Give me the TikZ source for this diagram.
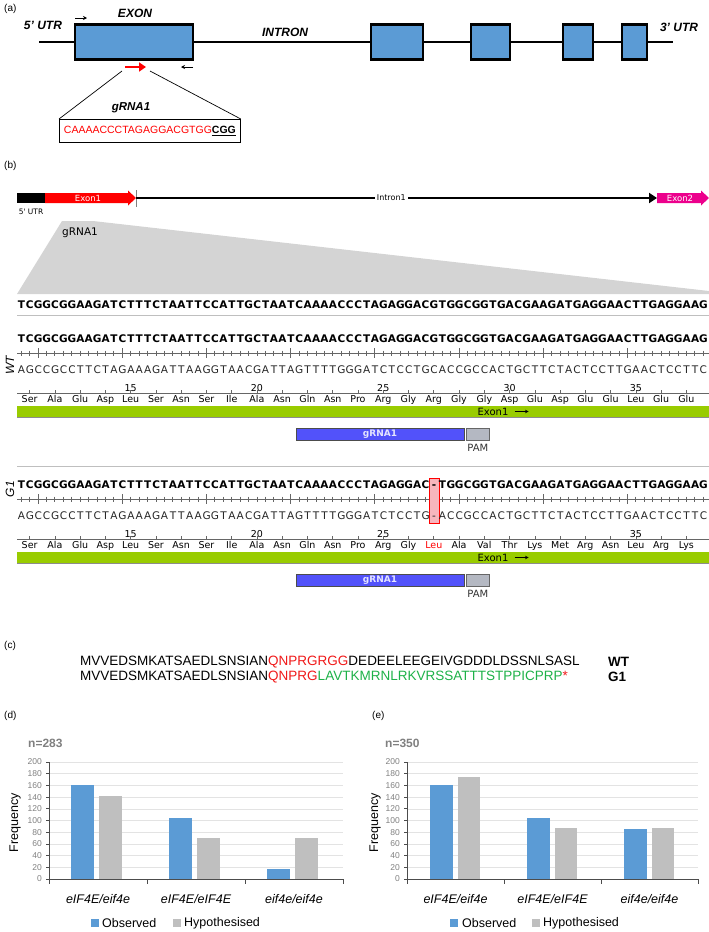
\documentclass[tikz,border=0pt]{standalone}
\usepackage{fontspec}
\setmainfont{Liberation Sans}
\newfontfamily\sgfont{DejaVu Sans}
\usetikzlibrary{arrows.meta, positioning}

\definecolor{exonblue}{HTML}{5B9BD5}
\definecolor{chartgray}{HTML}{BFBFBF}
\definecolor{snapgreen}{HTML}{99CC00}
\definecolor{guideblue}{HTML}{5252FA}
\definecolor{pamgray}{HTML}{B4B8C2}
\definecolor{gapred}{HTML}{F7B5BD}
\definecolor{protred}{HTML}{F01818}
\definecolor{protgreen}{HTML}{1DB148}
\definecolor{ticktext}{HTML}{808080}
\definecolor{gridgray}{HTML}{E3E3E3}
\definecolor{wedgegray}{HTML}{D4D4D4}

\newcommand\fsz[1]{\fontsize{#1pt}{#1pt}\selectfont}
% one letter per fixed-width cell, like the SnapGene view
\newcommand\seqspread[1]{\seqstep#1\relax}
\def\seqstep#1{\ifx#1\relax\else\makebox[8.42pt]{#1}\expandafter\seqstep\fi}

\begin{document}
\begin{tikzpicture}[
    x=1pt, y=-1pt, >=Latex,
    panellab/.style={font=\fsz{10}, anchor=west, inner sep=0},
    genelab/.style={font=\fsz{12}\bfseries\itshape, inner sep=0},
    exonbox/.style={draw=black, line width=2.4pt, fill=exonblue,
        inner sep=0, minimum height=35pt},
    primer/.style={-{Stealth[length=4pt,width=4pt]}, line width=0.9pt},
    sglab/.style={font=\sgfont\fsz{#1}, inner sep=0},
    seqtop/.style={font=\sgfont\bfseries\fsz{10.5}, anchor=west, inner sep=0},
    seqbot/.style={font=\sgfont\fsz{10.5}, anchor=west, inner sep=0, text=black!85},
    aaname/.style={font=\sgfont\fsz{9.5}, inner sep=0, text height=7pt, text depth=2pt},
    aanum/.style={font=\sgfont\fsz{9.5}, inner sep=0},
    rulerline/.style={draw=black!60, line width=0.8pt},
    sepline/.style={draw=black!25, line width=1pt},
    strainlab/.style={font=\itshape\fsz{12}, rotate=90, inner sep=0},
    protseq/.style={font=\fsz{13.5}, anchor=west, inner sep=0},
    ticklab/.style={font=\fsz{8.5}, text=ticktext, anchor=east, inner sep=0},
    catlab/.style={font=\itshape\fsz{12.5}, inner sep=0},
    leglab/.style={font=\fsz{12.5}, anchor=west, inner sep=0},
    nlab/.style={font=\bfseries\fsz{12}, text=ticktext, anchor=west, inner sep=0},
    gridline/.style={draw=gridgray, line width=0.6pt},
    axisline/.style={draw=black!70, line width=0.8pt}
]
\useasboundingbox (0,0) rectangle (709,932);

% ---------- (a) gene model
\node[panellab] (labA) at (4,9) {(a)};
\coordinate (geneStart) at (39,42);
\coordinate (geneEnd) at (673,42);
\draw[line width=2.8pt] (geneStart) -- (geneEnd);
\node[exonbox, minimum width=118pt] (ex1) at (134,42) {};
\node[exonbox, minimum width=52pt] (ex2) at (397,42) {};
\node[exonbox, minimum width=39pt] (ex3) at (490.5,42) {};
\node[exonbox, minimum width=30pt] (ex4) at (578,42) {};
\node[exonbox, minimum width=25pt] (ex5) at (634.5,42) {};
\node[genelab] (utr5) at (43,25) {5' UTR};
\node[genelab] (exonLab) at (135,13) {EXON};
\node[genelab] (intronLab) at (285,32) {INTRON};
\node[genelab] (utr3) at (679,27) {3' UTR};

\coordinate (fwdP) at (75,18);
\coordinate (revP) at (193,67);
\draw[primer] (fwdP) -- ++(12,0);
\draw[primer] (revP) -- ++(-12,0);
\coordinate (cutSite) at (125,67);
\draw[-{Triangle[length=7pt,width=9pt]}, red, line width=2.6pt] (cutSite) -- ++(21,0);

\node[draw, line width=0.8pt, minimum width=181pt, minimum height=23pt,
    anchor=north west, inner sep=0, font=\fsz{10.5}] (gbox) at (59,119)
    {\textcolor{red}{CAAAACCCTAGAGGACGTGG}\underline{\textbf{CGG}}};
\node[genelab, font=\fsz{11.5}\bfseries\itshape] (gLab) at (131,108) {gRNA1};
\draw[line width=0.7pt] (122,71) -- (gbox.north west);
\draw[line width=0.7pt] (150,71) -- (gbox.north east);

% ---------- (b) SnapGene view
\node[panellab] (labB) at (4,166) {(b)};
\fill[wedgegray] (62,221) -- (93,221) -- (709,291) -- (709,294) -- (17,294) -- cycle;
\node[sglab=10.5, anchor=west] (wedgeLab) at (62,233) {gRNA1};

\node[fill=black, minimum width=28pt, minimum height=10pt, inner sep=0,
    anchor=west] (utrBar) at (17,198) {};
\fill[red] (45,193) -- (128,193) -- (128,190.5) -- (136,198) -- (128,205.5)
    -- (128,203) -- (45,203) -- cycle;
\node[sglab=8.5, text=white] (exon1Tag) at (88,198) {Exon1};
\draw[black!50] (136,190) -- (136,207);
\coordinate (intronStart) at (136,198);
\coordinate (intronEnd) at (657,198);
\draw[line width=2.6pt, -{Triangle[length=8pt,width=10pt]}] (intronStart) -- (intronEnd)
    node[pos=0.49, fill=white, sglab=8, inner sep=2pt] (intronTag) {Intron1};
\fill[magenta] (657,193) -- (701,193) -- (701,190.5) -- (709,198) -- (701,205.5)
    -- (701,203) -- (657,203) -- cycle;
\node[sglab=8.5, text=white] (exon2Tag) at (680,198) {Exon2};
\node[sglab=7.5] (utrTag) at (31,212) {5' UTR};

\node[seqtop] (refSeq) at (17,305)
    {\seqspread{TCGGCGGAAGATCTTTCTAATTCCATTGCTAATCAAAACCCTAGAGGACGTGGCGGTGACGAAGATGAGGAACTTGAGGAAG}};
\draw[sepline] (17,315) -- (709,315);
\draw[sepline] (17,466) -- (709,466);

% rulers, exon bars, guide and PAM for both rows
\foreach \yb in {339,485} {
  \draw[rulerline] (17,{\yb+14}) -- (709,{\yb+14});
  \foreach \i in {0,...,81}
    \draw[rulerline] ({21.21+8.42*\i},{\yb+11.5}) -- ++(0,5);
  \foreach \i in {2,12,...,72}
    \draw[rulerline] ({21.21+8.42*\i},{\yb+9}) -- ++(0,10);
  \draw[rulerline, line width=0.6pt] (17,{\yb+54}) -- (709,{\yb+54});
  \foreach \k in {0,...,26}
    \draw[rulerline, line width=0.6pt] ({29.63+25.26*\k},{\yb+54}) -- ++(0,-3);
  \fill[snapgreen] (17,{\yb+67}) rectangle (709,{\yb+78});
  \draw[black!45, line width=1pt] (17,{\yb+78}) -- (709,{\yb+78});
  \node[sglab=10] (exonTag\yb) at (493,{\yb+72.5}) {Exon1};
  \draw[-{Stealth[length=3.5pt,width=3.5pt]}, line width=0.9pt]
    ([xshift=6pt]exonTag\yb.east) -- ++(14,0);
  \node[fill=guideblue, draw=black!70, minimum width=168pt, minimum height=12pt,
    inner sep=0, font=\sgfont\bfseries\fsz{9}, text=white!85!guideblue]
    (guide\yb) at (380,{\yb+95}) {gRNA1};
  \node[fill=pamgray, draw=black!60, minimum width=23pt, minimum height=12pt,
    inner sep=0, right=2pt of guide\yb] (pam\yb) {};
  \node[sglab=10, text=black!80, below=4pt of pam\yb] (pamTag\yb) {PAM};
}

% WT
\node[strainlab] (wtLab) at (10,365) {WT};
\node[seqtop] (wtTop) at (17,339)
    {\seqspread{TCGGCGGAAGATCTTTCTAATTCCATTGCTAATCAAAACCCTAGAGGACGTGGCGGTGACGAAGATGAGGAACTTGAGGAAG}};
\node[seqbot] (wtBot) at (17,370)
    {\seqspread{AGCCGCCTTCTAGAAAGATTAAGGTAACGATTAGTTTTGGGATCTCCTGCACCGCCACTGCTTCTACTCCTTGAACTCCTTC}};
\foreach \n/\k in {15/4,20/9,25/14,30/19,35/24}
  \node[aanum] (wtNum\n) at ({29.63+25.26*\k},388) {\n};
\foreach \aa [count=\k from 0] in {Ser,Ala,Glu,Asp,Leu,Ser,Asn,Ser,Ile,Ala,Asn,Gln,Asn,Pro,
    Arg,Gly,Arg,Gly,Gly,Asp,Glu,Asp,Glu,Glu,Leu,Glu,Glu}
  \node[aaname] (wtAa\k) at ({29.63+25.26*\k},400) {\aa};

% G1, one base deleted
\node[strainlab] (g1Lab) at (10,489) {G1};
\node[draw=red, fill=gapred, minimum width=10pt, minimum height=45pt, inner sep=0]
    (gapBox) at (434,500.5) {};
\node[seqtop] (g1Top) at (17,485)
    {\seqspread{TCGGCGGAAGATCTTTCTAATTCCATTGCTAATCAAAACCCTAGAGGAC-TGGCGGTGACGAAGATGAGGAACTTGAGGAAG}};
\node[seqbot] (g1Bot) at (17,516)
    {\seqspread{AGCCGCCTTCTAGAAAGATTAAGGTAACGATTAGTTTTGGGATCTCCTG-ACCGCCACTGCTTCTACTCCTTGAACTCCTTC}};
\foreach \n/\k in {15/4,20/9,25/14,35/24}
  \node[aanum] (g1Num\n) at ({29.63+25.26*\k},534) {\n};
\foreach \aa [count=\k from 0] in {Ser,Ala,Glu,Asp,Leu,Ser,Asn,Ser,Ile,Ala,Asn,Gln,Asn,Pro,
    Arg,Gly,\textcolor{red}{Leu},Ala,Val,Thr,Lys,Met,Arg,Asn,Leu,Arg,Lys}
  \node[aaname] (g1Aa\k) at ({29.63+25.26*\k},546) {\aa};

% ---------- (c) protein sequences
\node[panellab] (labC) at (4,646) {(c)};
\node[protseq] (wtProt) at (80,662)
    {MVVEDSMKATSAEDLSNSIAN\textcolor{protred}{QNPRGRGG}DEDEELEEGEIVGDDDLDSSNLSASL};
\node[protseq] (g1Prot) at (80,677)
    {MVVEDSMKATSAEDLSNSIAN\textcolor{protred}{QNPRG}\textcolor{protgreen}{LAVTKMRNLRKVRSSATTTSTPPICPRP}\textcolor{protred}{*}};
\node[font=\bfseries\fsz{13.5}, anchor=west, inner sep=0] (wtTag) at (608,662) {WT};
\node[font=\bfseries\fsz{13.5}, anchor=west, inner sep=0] (g1Tag) at (608,677) {G1};

% ---------- (d) n=283
\node[panellab] (labD) at (4,716) {(d)};
\node[nlab] (nD) at (28,743) {n=283};
\node[font=\fsz{12.5}, rotate=90, inner sep=0] (freqD) at (15,823) {Frequency};
\begin{scope}[shift={(49,0)}]
  \foreach \v in {20,40,...,200}
    \draw[gridline] (0,{879-0.585*\v}) -- (294,{879-0.585*\v});
  \foreach \v in {0,20,...,200}
    \node[ticklab] (dTick\v) at (-7,{879-0.585*\v}) {\v};
  \foreach \o/\h [count=\c from 0] in {161/141.5,105/70.75,17/70.75} {
    \fill[exonblue] ({98*\c+22},879) rectangle ({98*\c+45},{879-0.585*\o});
    \fill[chartgray] ({98*\c+50},879) rectangle ({98*\c+73},{879-0.585*\h});
  }
  \draw[axisline] (0,762) -- (0,879) -- (294,879);
  \foreach \v in {0,20,...,200}
    \draw[axisline] (-3,{879-0.585*\v}) -- (0,{879-0.585*\v});
  \foreach \c in {0,...,3}
    \draw[axisline] ({98*\c},879) -- ++(0,5);
  \node[catlab] (dCat1) at (49,899) {eIF4E/eif4e};
  \node[catlab] (dCat2) at (147,899) {eIF4E/eIF4E};
  \node[catlab] (dCat3) at (245,899) {eif4e/eif4e};
\end{scope}
\fill[exonblue] (91,919) rectangle (99,927);
\node[leglab] (dObs) at (102,923) {Observed};
\fill[chartgray] (173,919) rectangle (181,927);
\node[leglab] (dHyp) at (184,923) {Hypothesised};

% ---------- (e) n=350
\node[panellab] (labE) at (372,716) {(e)};
\node[nlab] (nE) at (385,743) {n=350};
\node[font=\fsz{12.5}, rotate=90, inner sep=0] (freqE) at (375,823) {Frequency};
\begin{scope}[shift={(407,0)}]
  \foreach \v in {20,40,...,200}
    \draw[gridline] (0,{879-0.585*\v}) -- (291,{879-0.585*\v});
  \foreach \v in {0,20,...,200}
    \node[ticklab] (eTick\v) at (-7,{879-0.585*\v}) {\v};
  \foreach \o/\h [count=\c from 0] in {160/175,104/87.5,86/87.5} {
    \fill[exonblue] ({97*\c+23},879) rectangle ({97*\c+46},{879-0.585*\o});
    \fill[chartgray] ({97*\c+51},879) rectangle ({97*\c+73},{879-0.585*\h});
  }
  \draw[axisline] (0,762) -- (0,879) -- (291,879);
  \foreach \v in {0,20,...,200}
    \draw[axisline] (-3,{879-0.585*\v}) -- (0,{879-0.585*\v});
  \foreach \c in {0,...,3}
    \draw[axisline] ({97*\c},879) -- ++(0,5);
  \node[catlab] (eCat1) at (48.5,899) {eIF4E/eif4e};
  \node[catlab] (eCat2) at (145.5,899) {eIF4E/eIF4E};
  \node[catlab] (eCat3) at (242.5,899) {eif4e/eif4e};
\end{scope}
\fill[exonblue] (450,919) rectangle (458,927);
\node[leglab] (eObs) at (462,923) {Observed};
\fill[chartgray] (532,919) rectangle (540,927);
\node[leglab] (eHyp) at (543,923) {Hypothesised};

\end{tikzpicture}
\end{document}
